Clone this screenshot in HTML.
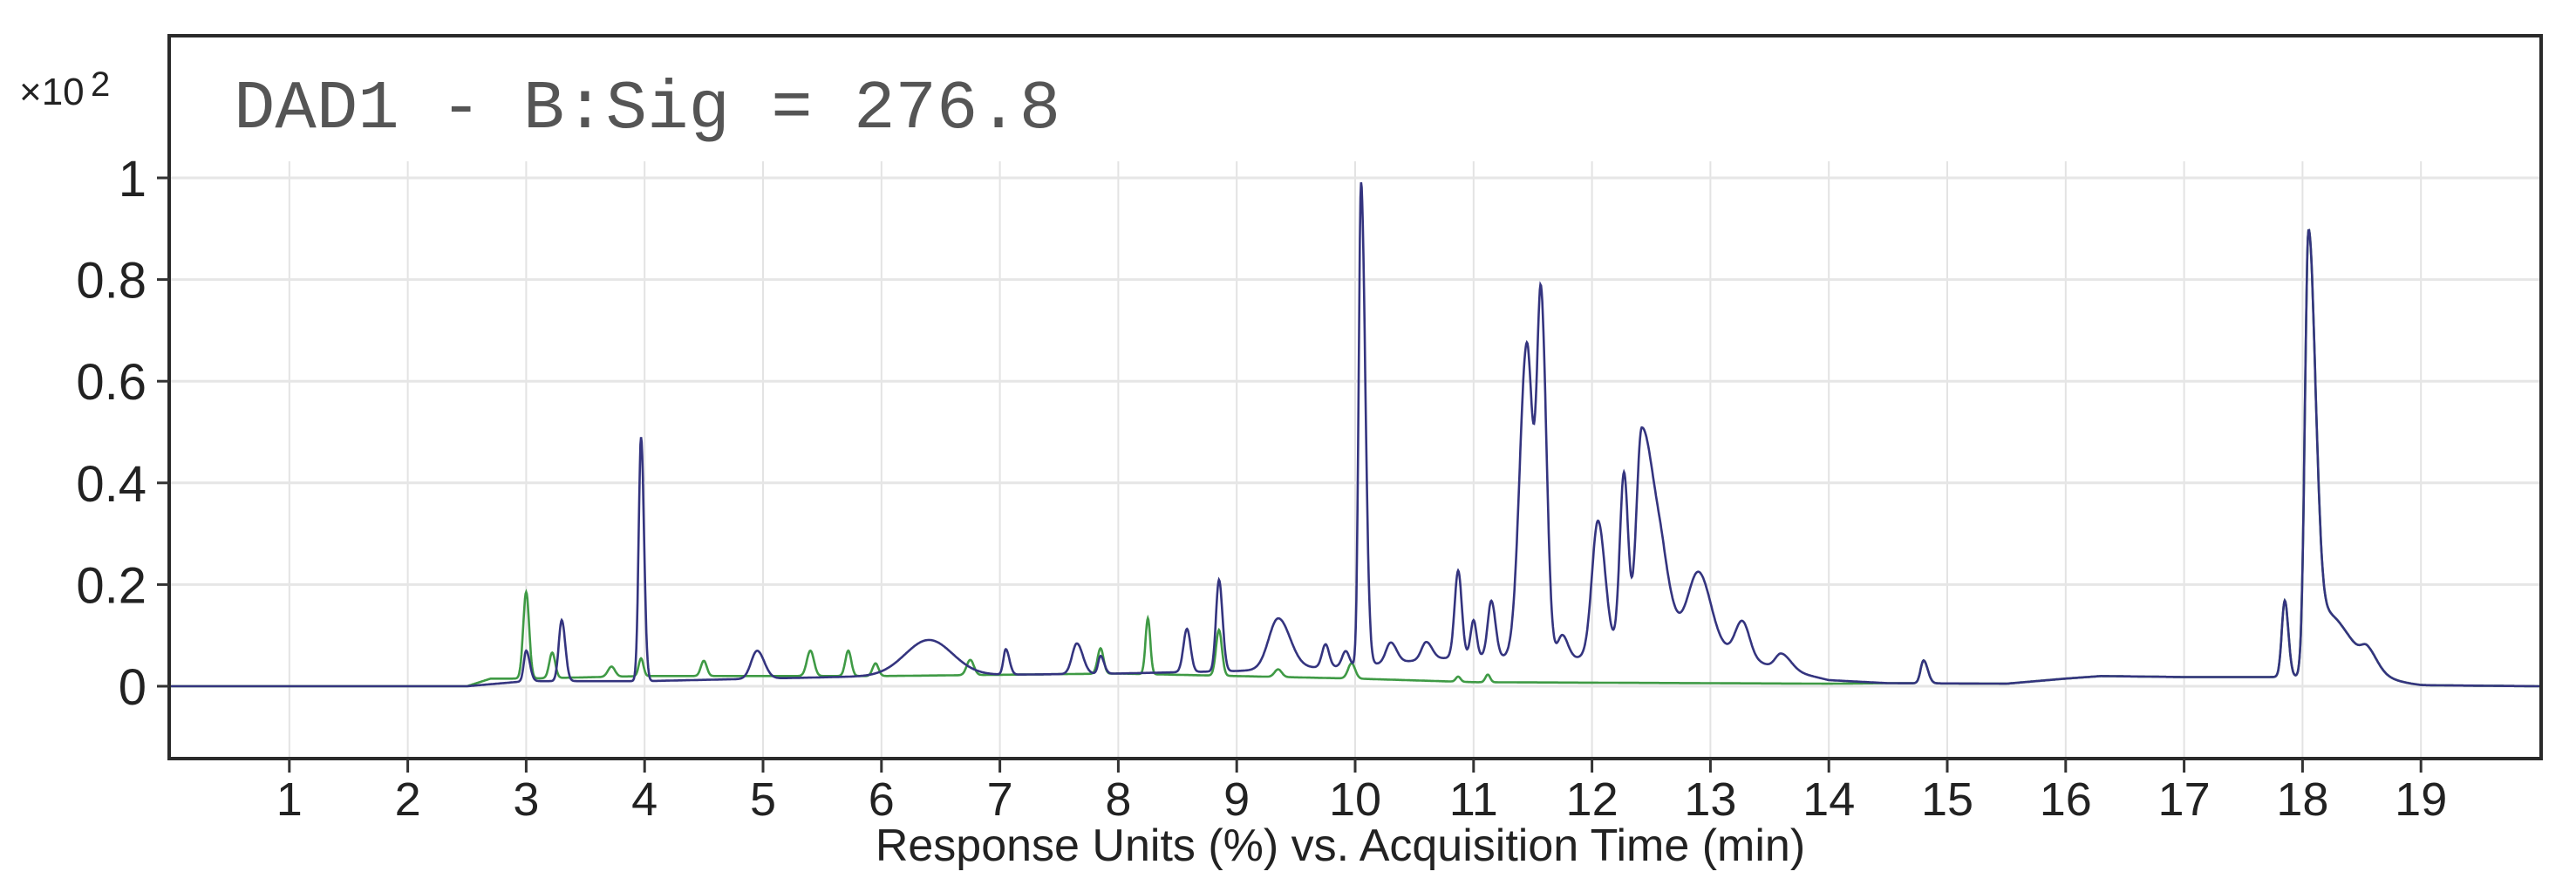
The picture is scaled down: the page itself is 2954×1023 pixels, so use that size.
<!DOCTYPE html>
<html><head><meta charset="utf-8"><style>
html,body{margin:0;padding:0;background:#fff;}
svg{display:block;}
</style></head><body>
<svg id="chart" width="2954" height="1023" viewBox="0 0 2954 1023" xmlns="http://www.w3.org/2000/svg">
<rect x="0" y="0" width="2954" height="1023" fill="#fff"/>
<g id="grid"></g>
<g id="series"></g>
<rect x="194" y="41" width="2720" height="829" fill="none" stroke="#2a2a2a" stroke-width="4"/>
<g id="axes"></g>
<text x="268" y="146" font-family="Liberation Mono, monospace" font-size="79" fill="#555">DAD1 - B:Sig = 276.8</text>
<text x="22" y="120" font-family="Liberation Sans, sans-serif" font-size="44" fill="#222">×10</text>
<text x="104" y="110" font-family="Liberation Sans, sans-serif" font-size="40" fill="#222">2</text>
<text x="1537" y="987" text-anchor="middle" font-family="Liberation Sans, sans-serif" font-size="52" fill="#222">Response Units (%) vs. Acquisition Time (min)</text>
</svg>
<script>
const xTicks=[1,2,3,4,5,6,7,8,9,10,11,12,13,14,15,16,17,18,19];
const yTicks=[0,0.2,0.4,0.6,0.8,1];
const yTickLabels=["0","0.2","0.4","0.6","0.8","1"];
// blue trace
const blueBaseT=[0,2.5,3.0,4.0,6.0,8.0,9.0,10.0,11.0,11.8,12.6,13.0,13.5,14.0,14.5,15.5,16.0,16.3,17.0,17.7,18.3,19.0,20];
const blueBaseV=[0,0,0.01,0.01,0.02,0.025,0.03,0.04,0.06,0.05,0.1,0.08,0.04,0.012,0.006,0.005,0.015,0.02,0.018,0.018,0.02,0.002,0];
const bluePeakT=[3.0,3.3,3.97,4.95,6.4,7.05,7.65,7.85,8.58,8.85,9.35,9.75,9.92,10.05,10.3,10.6,10.87,11.0,11.15,11.45,11.57,11.75,12.05,12.27,12.42,12.6,12.9,13.27,13.6,14.8,17.85,18.05,18.15,18.55];
const bluePeakH=[0.06,0.12,0.48,0.055,0.07,0.05,0.06,0.035,0.085,0.18,0.1,0.045,0.03,0.95,0.04,0.035,0.17,0.07,0.11,0.62,0.7,0.05,0.26,0.34,0.42,0.05,0.14,0.07,0.03,0.045,0.15,0.86,0.13,0.03];
const bluePeakSL=[0.02,0.025,0.02,0.05,0.2,0.02,0.04,0.02,0.03,0.025,0.08,0.03,0.03,0.02,0.04,0.04,0.03,0.025,0.03,0.06,0.035,0.04,0.05,0.035,0.045,0.05,0.09,0.06,0.05,0.025,0.025,0.03,0.05,0.05];
const bluePeakSR=[0.03,0.03,0.025,0.06,0.2,0.03,0.05,0.03,0.03,0.03,0.1,0.03,0.03,0.035,0.05,0.05,0.03,0.025,0.035,0.05,0.045,0.05,0.06,0.035,0.12,0.08,0.1,0.06,0.08,0.035,0.03,0.055,0.25,0.08];
// green trace
const greenBaseT=[0,2.5,2.7,3.0,4.0,6.0,8.0,9.0,10.0,11.0,14.0,14.5,15.5,16.0,16.3,17.0,17.7,18.3,19.0,20];
const greenBaseV=[0,0,0.015,0.015,0.02,0.02,0.025,0.02,0.015,0.008,0.005,0.006,0.005,0.015,0.02,0.018,0.018,0.02,0.002,0];
const greenPeakT=[3.0,3.22,3.72,3.97,4.5,5.4,5.72,5.95,6.75,7.85,8.25,8.85,9.35,9.97,10.87,11.12,14.8,17.85,18.05,18.15,18.55];
const greenPeakH=[0.17,0.05,0.02,0.035,0.03,0.05,0.05,0.025,0.03,0.05,0.11,0.09,0.015,0.03,0.01,0.015,0.045,0.15,0.86,0.13,0.03];
const greenPeakSL=[0.025,0.025,0.03,0.02,0.025,0.03,0.025,0.025,0.03,0.025,0.02,0.025,0.03,0.03,0.02,0.02,0.025,0.025,0.03,0.05,0.05];
const greenPeakSR=[0.025,0.025,0.03,0.02,0.025,0.03,0.025,0.025,0.03,0.025,0.02,0.025,0.03,0.03,0.02,0.02,0.035,0.03,0.055,0.25,0.08];

const X0=196,XS=135.8,Y0=787,YS=583;
const xs=t=>X0+t*XS, ys=v=>Y0-v*YS;
const NS="http://www.w3.org/2000/svg";
function mk(tag,attrs,parent){const e=document.createElementNS(NS,tag);for(const k in attrs)e.setAttribute(k,attrs[k]);parent.appendChild(e);return e;}
const grid=document.getElementById('grid'),axes=document.getElementById('axes'),ser=document.getElementById('series');
xTicks.forEach(t=>{
 const g=mk('line',{x1:xs(t),x2:xs(t),y1:185,y2:868,stroke:'#e3e3e3','stroke-width':2},grid);
 
 
 const tk=mk('line',{x1:xs(t),x2:xs(t),y1:870,y2:886,stroke:'#333','stroke-width':3},axes);
 
 
 const lb=mk('text',{x:xs(t),y:935,'text-anchor':'middle','font-family':'Liberation Sans, sans-serif','font-size':54,fill:'#222'},axes);
 lb.textContent=t;
 
 
});
yTicks.forEach((v,i)=>{
 const g=mk('line',{x1:196,x2:2912,y1:ys(v),y2:ys(v),stroke:'#e6e6e6','stroke-width':3},grid);
 
 
 const tk=mk('line',{x1:180,x2:194,y1:ys(v),y2:ys(v),stroke:'#333','stroke-width':3},axes);
 
 
 const lb=mk('text',{x:168,y:ys(v)+21,'text-anchor':'end','font-family':'Liberation Sans, sans-serif','font-size':58,fill:'#222'},axes);
 lb.textContent=yTickLabels[i];
 
 
});
function base(T,V,t){for(let i=0;i<T.length-1;i++){if(t<=T[i+1]){const f=(t-T[i])/(T[i+1]-T[i]);return V[i]+f*(V[i+1]-V[i]);}}return V[V.length-1];}
function trace(BT,BV,PT,PH,SL,SR){
 let d='';
 for(let t=0;t<=20.0001;t+=0.005){
  let v=base(BT,BV,t);
  for(let i=0;i<PT.length;i++){const s=t<PT[i]?SL[i]:SR[i];const z=(t-PT[i])/s;if(Math.abs(z)<8)v+=PH[i]*Math.exp(-0.5*z*z);}
  d+=(d?'L':'M')+xs(t).toFixed(1)+' '+ys(v).toFixed(1);
 }
 return d;
}
const gp=mk('path',{d:trace(greenBaseT,greenBaseV,greenPeakT,greenPeakH,greenPeakSL,greenPeakSR),fill:'none',stroke:'#3f9a45','stroke-width':2.6},ser);


const bp=mk('path',{d:trace(blueBaseT,blueBaseV,bluePeakT,bluePeakH,bluePeakSL,bluePeakSR),fill:'none',stroke:'#34347f','stroke-width':2.6},ser);


</script>
</body></html>
